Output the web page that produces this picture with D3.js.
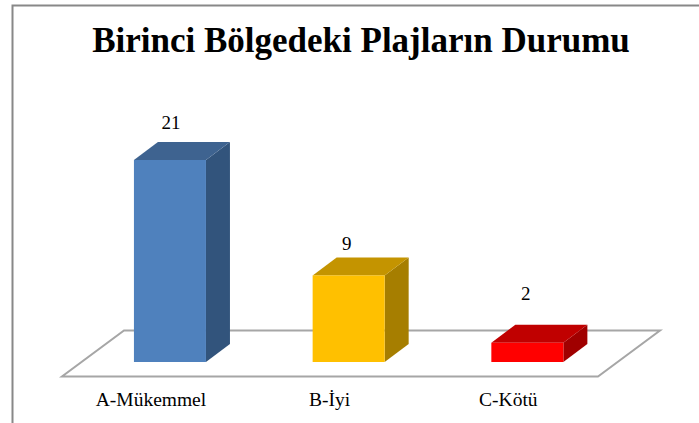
<!DOCTYPE html>
<html>
<head>
<meta charset="utf-8">
<script src="https://cdn.jsdelivr.net/npm/d3@7.9.0/dist/d3.min.js"></script>
<style>
    html, body { margin: 0; padding: 0; background: #fff; }
    svg { display: block; }
    text { font-family: "Liberation Serif", serif; fill: #000; }
</style>
</head>
<body>
<svg width="699" height="423"></svg>
<script>
const chartTitle = "Birinci Bölgedeki Plajların Durumu";
const categories = ["A-Mükemmel", "B-İyi", "C-Kötü"];
const values = [21, 9, 2];
const frontColors = ["#4f81bd", "#ffc000", "#ff0000"];
const topColors = ["#3e6390", "#c49400", "#c00000"];
const sideColors = ["#32547c", "#a67e00", "#a00000"];

// the value labels sit by hand in the picture, not at one fixed gap
const labelShiftX = [1, -2, -1.5];
const labelGap = [31, 25, 43];

let svg = d3.select("svg");

// depth of the fake 3d boxes
const depthX = 24;
const depthY = -18;
const floorY = 362;

let x = d3.scaleBand()
    .domain(categories)
    .range([80.6, 616.7])
    .paddingInner(0.597)
    .paddingOuter(0.2985);

let y = d3.scaleLinear()
    .domain([0, 21])
    .range([floorY, 160]);

// frame, only top and left sides show in the picture
svg.append("path")
    .attr("d", "M12.5,423V5.5H699")
    .attr("fill", "none")
    .attr("stroke", "#888")
    .attr("stroke-width", 2);

svg.append("text")
    .attr("x", 361)
    .attr("y", 52)
    .attr("text-anchor", "middle")
    .attr("font-size", 35)
    .attr("font-weight", "bold")
    .text(chartTitle);

// floor
svg.append("path")
    .attr("d", "M62,376.5H598L660,330.5H124Z")
    .attr("fill", "#fff")
    .attr("stroke", "#a6a6a6")
    .attr("stroke-width", 2);

let bars = svg.selectAll(".bar")
    .data(categories)
    .enter()
    .append("g")
    .attr("class", "bar");

function poly(points) {
    return d3.line()(points) + "Z";
}

bars.append("path")
    .attr("fill", (d, i) => sideColors[i])
    .attr("d", (d, i) => {
        let r = x(d) + x.bandwidth();
        return poly([[r, y(values[i])], [r + depthX, y(values[i]) + depthY], [r + depthX, floorY + depthY], [r, floorY]]);
    });

bars.append("path")
    .attr("fill", (d, i) => topColors[i])
    .attr("d", (d, i) => {
        let l = x(d), r = l + x.bandwidth(), t = y(values[i]);
        return poly([[l, t], [r, t], [r + depthX, t + depthY], [l + depthX, t + depthY]]);
    });

bars.append("rect")
    .attr("fill", (d, i) => frontColors[i])
    .attr("x", d => x(d))
    .attr("y", (d, i) => y(values[i]))
    .attr("width", x.bandwidth())
    .attr("height", (d, i) => floorY - y(values[i]));

bars.append("text")
    .attr("x", (d, i) => x(d) + x.bandwidth() / 2 + labelShiftX[i])
    .attr("y", (d, i) => y(values[i]) - labelGap[i])
    .attr("text-anchor", "middle")
    .attr("font-size", 19)
    .text((d, i) => values[i]);

// category labels, they sit left of the bars in the picture
let axis = svg.append("g")
    .attr("transform", "translate(-19,388)")
    .call(d3.axisBottom(x).tickSize(0).tickPadding(0));
axis.select(".domain").remove();
axis.selectAll("text")
    .attr("dy", "0.9em")
    .style("font-family", '"Liberation Serif", serif')
    .style("font-size", "19.5px");
</script>
</body>
</html>
